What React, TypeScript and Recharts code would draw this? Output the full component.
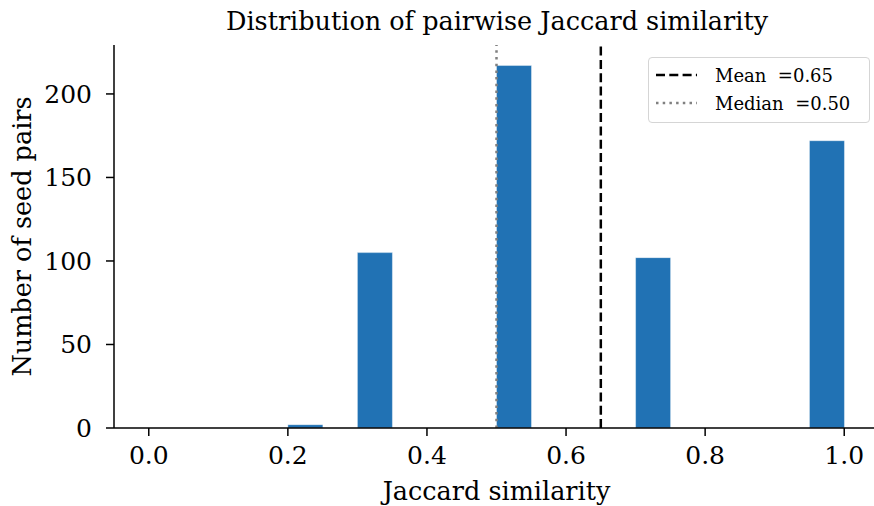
import React from "react";
import { ComposedChart, Bar, XAxis, YAxis, ReferenceLine } from "recharts";

const binStarts = [0, 0.05, 0.1, 0.15, 0.2, 0.25, 0.3, 0.35, 0.4, 0.45, 0.5, 0.55, 0.6, 0.65, 0.7, 0.75, 0.8, 0.85, 0.9, 0.95];
const counts = [0, 0, 0, 0, 2, 0, 105, 0, 0, 0, 217, 0, 0, 0, 102, 0, 0, 0, 0, 172];
const xTicks = [0, 0.2, 0.4, 0.6, 0.8, 1.0];
const yTicks = [0, 50, 100, 150, 200];
const meanValue = 0.65;
const medianValue = 0.5;
const binWidth = 0.05;

const data = binStarts.map((s, i) => ({ x: s + binWidth / 2, count: counts[i] }));

const FONT = "'DejaVu Serif', serif";
const MEAN_DASH = "9 4.3";
const MEDIAN_DASH = "2.5 4.2";

export default function App() {
  return (
    <div style={{ position: "absolute", left: 0, top: 0, width: 874, height: 506, overflow: "hidden", background: "#fff" }}>
      <div style={{ position: "absolute", left: 0, top: 6, width: 994, textAlign: "center", fontFamily: FONT, fontSize: 25.5, color: "#000", lineHeight: "30px", whiteSpace: "nowrap" }}>
        Distribution of pairwise Jaccard similarity
      </div>
      <ComposedChart
        width={880}
        height={506}
        data={data}
        margin={{ top: 45, right: 1, bottom: 0, left: 0 }}
        barCategoryGap={0}
        barGap={0}
      >
        <XAxis
          dataKey="x"
          type="number"
          domain={[-0.05, 1.05]}
          ticks={xTicks}
          tickFormatter={(v: number) => v.toFixed(1)}
          height={78}
          stroke="#000"
          strokeWidth={1.5}
          tickSize={8}
          tickMargin={10}
          tick={{ fill: "#000", fontFamily: FONT, fontSize: 25 }}
          allowDataOverflow
          label={{ value: "Jaccard similarity", position: "insideBottom", offset: 6, fill: "#000", fontFamily: FONT, fontSize: 25.5 }}
        />
        <YAxis
          type="number"
          domain={[0, 229.3]}
          ticks={yTicks}
          width={114}
          stroke="#000"
          strokeWidth={1.5}
          tickSize={8}
          tickMargin={14}
          tick={{ fill: "#000", fontFamily: FONT, fontSize: 25 }}
          allowDataOverflow
          label={{ value: "Number of seed pairs", angle: -90, position: "insideLeft", offset: 22, fill: "#000", fontFamily: FONT, fontSize: 25.5, style: { textAnchor: "middle" } }}
        />
        <Bar dataKey="count" fill="#2172b4" stroke="#ffffff" strokeWidth={0.4} isAnimationActive={false} />
        <ReferenceLine x={meanValue} stroke="#000" strokeWidth={2.5} strokeDasharray={MEAN_DASH} />
        <ReferenceLine x={medianValue} stroke="#808080" strokeWidth={2.5} strokeDasharray={MEDIAN_DASH} />
      </ComposedChart>
      <div style={{ position: "absolute", left: 648, top: 57, width: 220, height: 64, border: "1.5px solid #d5d5d5", borderRadius: 4, background: "rgba(255,255,255,0.8)", fontFamily: FONT, fontSize: 18, color: "#000" }}>
        <div style={{ position: "absolute", left: 7, top: 5, height: 24, display: "flex", alignItems: "center", whiteSpace: "nowrap" }}>
          <svg width={41} height={4}><line x1={0} y1={2} x2={41} y2={2} stroke="#000" strokeWidth={2.5} strokeDasharray={MEAN_DASH} /></svg>
          <span style={{ marginLeft: 18 }}>Mean &nbsp;=0.65</span>
        </div>
        <div style={{ position: "absolute", left: 7, top: 33, height: 24, display: "flex", alignItems: "center", whiteSpace: "nowrap" }}>
          <svg width={41} height={4}><line x1={0} y1={2} x2={41} y2={2} stroke="#808080" strokeWidth={2.5} strokeDasharray={MEDIAN_DASH} /></svg>
          <span style={{ marginLeft: 18 }}>Median &nbsp;=0.50</span>
        </div>
      </div>
    </div>
  );
}
